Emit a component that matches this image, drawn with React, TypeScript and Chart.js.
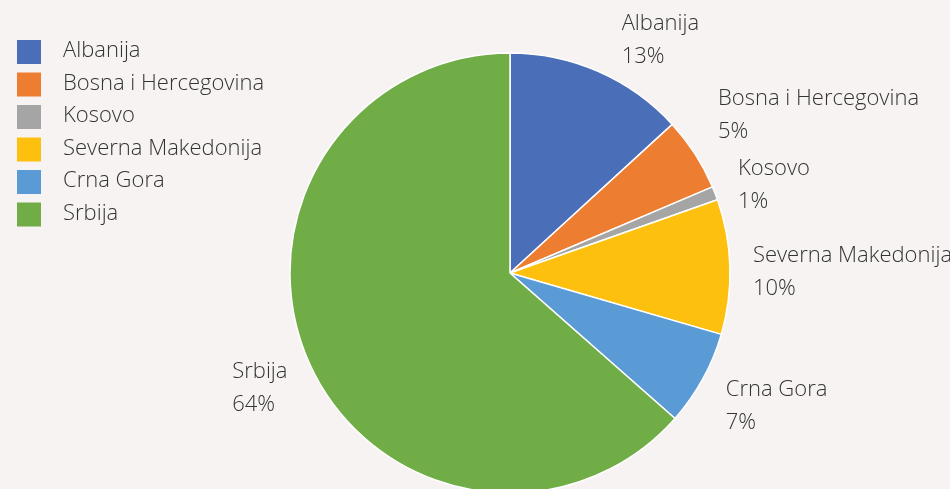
import React, { useEffect, useRef } from "react";
import { Chart, registerables } from "chart.js";

Chart.register(...registerables);

const categories = ["Albanija", "Bosna i Hercegovina", "Kosovo", "Severna Makedonija", "Crna Gora", "Srbija"];
const shares = [13.2, 5.4, 1.0, 9.9, 7.0, 63.5];
const sliceColors = ["#4A6FB8", "#ED7D31", "#A5A5A5", "#FEC00F", "#5B9BD5", "#70AD47"];

const BG = "#f7f3f2";
const TEXT = "#333333";
const FONT = "300 22px 'Open Sans'";

const bgPlugin = {
  id: "bg",
  beforeDraw(chart: any) {
    const { ctx, width, height } = chart;
    ctx.save();
    ctx.fillStyle = BG;
    ctx.fillRect(0, 0, width, height);
    ctx.restore();
  },
};

const legendPlugin = {
  id: "customLegend",
  afterDraw(chart: any) {
    const ctx = chart.ctx;
    ctx.save();
    ctx.font = FONT;
    ctx.textBaseline = "middle";
    ctx.textAlign = "left";
    categories.forEach((c, i) => {
      const y = 40 + i * 32.5;
      ctx.fillStyle = sliceColors[i];
      ctx.fillRect(17, y, 24, 24);
      ctx.fillStyle = TEXT;
      ctx.fillText(c, 63, y + 11);
    });
    ctx.restore();
  },
};

const labelPlugin = {
  id: "sliceLabels",
  afterDraw(chart: any) {
    const ctx = chart.ctx;
    const meta = chart.getDatasetMeta(0);
    const total = shares.reduce((a, b) => a + b, 0);
    ctx.save();
    ctx.font = FONT;
    ctx.fillStyle = TEXT;
    ctx.textBaseline = "middle";
    ctx.textAlign = "left";
    const items: any[] = [];
    meta.data.forEach((arc: any, i: number) => {
      const p = arc.getProps(["x", "y", "startAngle", "endAngle", "outerRadius"], true);
      const mid = (p.startAngle + p.endAngle) / 2;
      const ux = Math.cos(mid);
      const uy = Math.sin(mid);
      const ax = p.x + p.outerRadius * ux;
      const ay = p.y + p.outerRadius * uy;
      const right = ux >= 0;
      const l1 = categories[i];
      const l2 = Math.round((shares[i] * 100) / total) + "%";
      const w = Math.max(ctx.measureText(l1).width, ctx.measureText(l2).width);
      items.push({ right, nearX: ax + (right ? 23 : -22), cy: ay + 42 * uy + 7, l1, l2, w });
    });
    const gap = 70;
    [true, false].forEach((side) => {
      const list = items.filter((it) => it.right === side).sort((a, b) => a.cy - b.cy);
      for (let k = list.length - 1; k >= 1; k--) {
        if (list[k].cy - list[k - 1].cy < gap) list[k - 1].cy = list[k].cy - gap;
      }
    });
    items.forEach((it) => {
      const x = it.right ? it.nearX : it.nearX - it.w;
      ctx.fillText(it.l1, x, it.cy - 16.5);
      ctx.fillText(it.l2, x, it.cy + 16.5);
    });
    ctx.restore();
  },
};

export default function App() {
  const ref = useRef<HTMLCanvasElement>(null);
  useEffect(() => {
    document.body.style.margin = "0";
    document.body.style.background = BG;
    const chart = new Chart(ref.current as HTMLCanvasElement, {
      type: "pie",
      data: {
        labels: categories,
        datasets: [
          {
            data: shares,
            backgroundColor: sliceColors,
            borderColor: "#ffffff",
            borderWidth: 1.5,
            radius: 220,
            clip: false,
          } as any,
        ],
      },
      options: {
        responsive: false,
        animation: false,
        layout: { padding: { left: 290, right: 220, top: 57, bottom: 0 } },
        plugins: { legend: { display: false }, tooltip: { enabled: false } },
      },
      plugins: [bgPlugin, labelPlugin, legendPlugin],
    });
    return () => chart.destroy();
  }, []);
  return (
    <div style={{ width: 950, height: 489 }}>
      <canvas ref={ref} width={950} height={489} style={{ display: "block" }} />
    </div>
  );
}
